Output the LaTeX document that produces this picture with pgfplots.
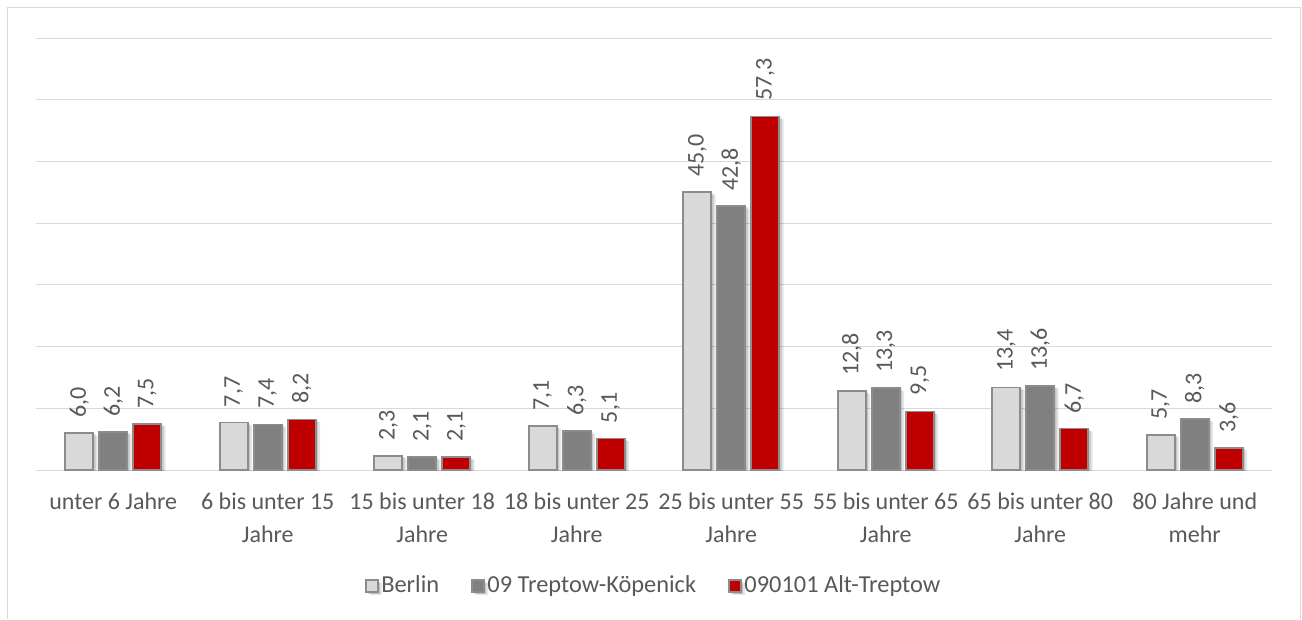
\documentclass[border=0pt]{standalone}
\usepackage{pgfplots}
\pgfplotsset{compat=1.18}
\usepackage{fontspec}
\setmainfont{Carlito}
\definecolor{cBerlin}{HTML}{D9D9D9}
\definecolor{cTK}{HTML}{808080}
\definecolor{cAT}{HTML}{C00000}
\definecolor{cEdge}{HTML}{8C8C8C}
\definecolor{cText}{HTML}{595959}
\definecolor{cGrid}{HTML}{D9D9D9}
\tikzset{barshadow/.style={
  preaction={draw=none, fill=black, fill opacity=0.10, transform canvas={xshift=3.2pt, yshift=-2pt}},
  preaction={draw=none, fill=black, fill opacity=0.14, transform canvas={xshift=1.8pt, yshift=-1pt}}}}
\begin{document}
\begin{tikzpicture}[x=1pt,y=1pt]
\fontsize{18}{22}\selectfont
\useasboundingbox (-27,352.5) rectangle (949.5,-111.75);
\draw[cGrid,line width=0.75pt] (-21,-111.75) -- (-21,346.5) -- (948,346.5) -- (948,-111.75);
\begin{axis}[
  at={(0,0)}, anchor=south west,
  scale only axis, width=927pt, height=324pt,
  ybar=4.5pt, bar width=21pt,
  xmin=-0.5, xmax=7.5, ymin=0, ymax=70,
  xtick=data,
  xticklabels={{unter 6 Jahre},{6 bis unter 15\\Jahre},{15 bis unter 18\\Jahre},{18 bis unter 25\\Jahre},{25 bis unter 55\\Jahre},{55 bis unter 65\\Jahre},{65 bis unter 80\\Jahre},{80 Jahre und\\mehr}},
  x tick label style={align=center, font=\fontsize{18}{24.5}\selectfont, text=cText, anchor=north, yshift=-11pt},
  ytick={0,10,...,70}, yticklabels={},
  major tick length=0pt,
  ymajorgrids, major grid style={cGrid, line width=0.75pt},
  axis line style={draw=none},
  nodes near coords,
  every node near coord/.append style={rotate=90, anchor=west, font=\fontsize{18}{22}\selectfont, text=cText, xshift=5pt,
    /pgf/number format/.cd, fixed, fixed zerofill, precision=1, use comma, assume math mode=true},
  legend style={at={(0.5,-0.269)}, anchor=center, draw=none, legend columns=-1,
    font=\fontsize{18.3}{22}\selectfont, text=cText,
    /tikz/every even column/.append style={column sep=22pt}},
  legend image code/.code={\draw[#1] (1pt,-4.5pt) rectangle (10pt,4.5pt);},
]
\addplot[fill=cBerlin, draw=cEdge, line width=1.2pt, barshadow] coordinates {(0,6.0) (1,7.7) (2,2.3) (3,7.1) (4,45.0) (5,12.8) (6,13.4) (7,5.7)};
\addplot[fill=cTK, draw=cEdge, line width=1.2pt, barshadow] coordinates {(0,6.2) (1,7.4) (2,2.1) (3,6.3) (4,42.8) (5,13.3) (6,13.6) (7,8.3)};
\addplot[fill=cAT, draw=cEdge, line width=1.2pt, barshadow] coordinates {(0,7.5) (1,8.2) (2,2.1) (3,5.1) (4,57.3) (5,9.5) (6,6.7) (7,3.6)};
\legend{Berlin, 09 Treptow-Köpenick, 090101 Alt-Treptow}
\end{axis}
\end{tikzpicture}
\end{document}
